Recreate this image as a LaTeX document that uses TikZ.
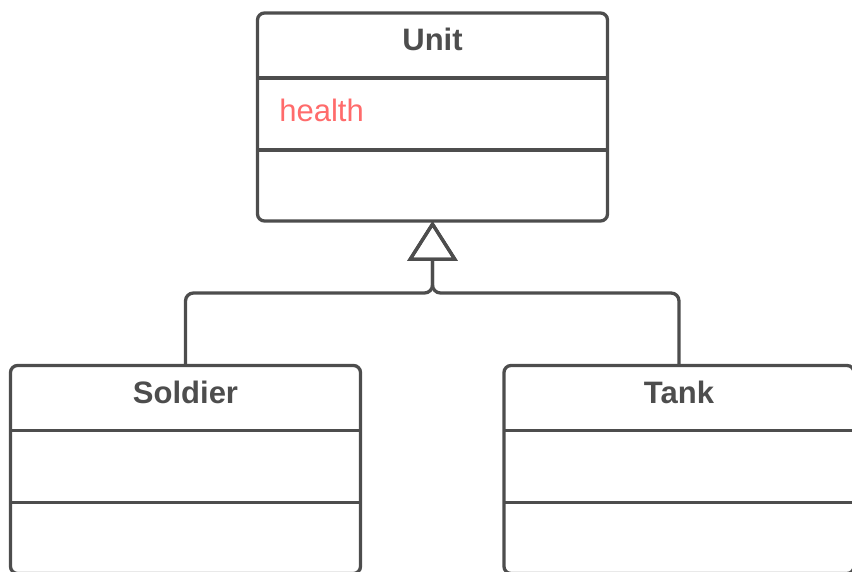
\documentclass[tikz,border=0pt]{standalone}
\usepackage{fontspec}
\setmainfont{Liberation Sans}
\usepackage{xcolor}
\usepackage{tikz}
\usetikzlibrary{arrows.meta,calc,positioning}
\definecolor{umlgray}{HTML}{4D4D4D}
\definecolor{attrred}{HTML}{FF6B6B}

\begin{document}
\begin{tikzpicture}[
  x=0.5pt,
  y=-0.5pt,
  classbox/.style={draw=umlgray, line width=1.65pt, rounded corners=3.5pt, minimum width=175pt, minimum height=104pt, outer sep=0pt, inner sep=0pt},
  sep/.style={draw=umlgray, line width=1.65pt},
  cname/.style={font=\fontsize{15.5}{18}\selectfont\bfseries, text=umlgray, inner sep=0pt},
  attr/.style={font=\fontsize{15.5}{18}\selectfont, text=attrred, inner sep=0pt, anchor=west},
  gen/.style={draw=umlgray, line width=1.65pt, rounded corners=4pt, -{Triangle[open, length=20pt, width=25pt]}}
]
\useasboundingbox (0,0) rectangle (852,572);
\clip (0,0) rectangle (852,572);

\node[classbox] (unit) at (432.5,117) {};
\node[cname] (unitname) at (432.5,39) {Unit};
\node[attr] (health) at (279,110) {health};
\draw[sep] ($(unit.north west)+(0,65)$) -- ($(unit.north east)+(0,65)$);
\draw[sep] ($(unit.north west)+(0,137)$) -- ($(unit.north east)+(0,137)$);

\node[classbox] (soldier) at (185.5,469.5) {};
\node[cname] (soldiername) at (185.5,392) {Soldier};
\draw[sep] ($(soldier.north west)+(0,65)$) -- ($(soldier.north east)+(0,65)$);
\draw[sep] ($(soldier.north west)+(0,137)$) -- ($(soldier.north east)+(0,137)$);

\node[classbox] (tank) at (679,469.5) {};
\node[cname] (tankname) at (679,392) {Tank};
\draw[sep] ($(tank.north west)+(0,65)$) -- ($(tank.north east)+(0,65)$);
\draw[sep] ($(tank.north west)+(0,137)$) -- ($(tank.north east)+(0,137)$);

\coordinate (fork) at (432.5,293);
\draw[gen] (soldier.north) |- (fork) -- (unit.south);
\draw[gen] (tank.north) |- (fork) -- (unit.south);
\end{tikzpicture}
\end{document}
